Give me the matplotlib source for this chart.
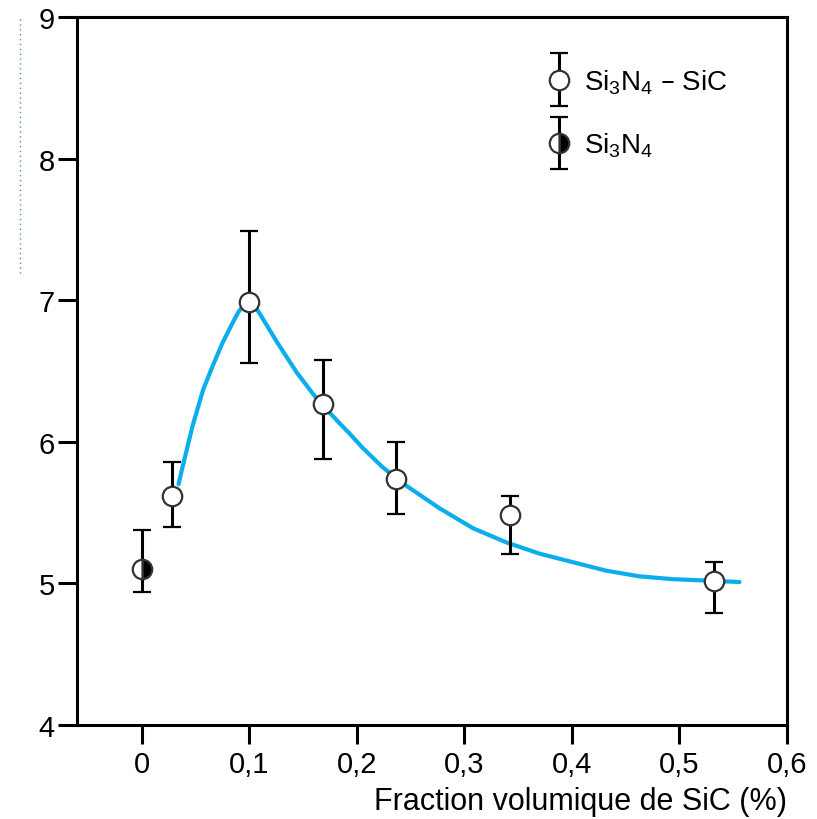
import numpy as np
import matplotlib
matplotlib.use("Agg")
import matplotlib.pyplot as plt
from matplotlib.lines import Line2D
from matplotlib.legend_handler import HandlerErrorbar

plt.rcParams['font.family'] = ['Liberation Sans Narrow', 'Liberation Sans', 'DejaVu Sans']
plt.rcParams['mathtext.default'] = 'regular'

# Si3N4 - SiC composites
x_sic = [0.028, 0.100, 0.168, 0.236, 0.342, 0.532]
y_sic = [5.62, 6.99, 6.27, 5.74, 5.48, 5.02]
err_lo_sic = [0.22, 0.43, 0.39, 0.25, 0.27, 0.23]
err_hi_sic = [0.24, 0.50, 0.31, 0.26, 0.14, 0.13]

# Si3N4 seul
x_si = [0.0]
y_si = [5.10]
err_lo_si = [0.16]
err_hi_si = [0.28]

# courbe de tendance
curve_x = [0.034, 0.038, 0.047, 0.057, 0.066, 0.075, 0.085, 0.090, 0.095, 0.100,
           0.104, 0.110, 0.126, 0.144, 0.159, 0.168, 0.184, 0.193, 0.205, 0.224,
           0.246, 0.277, 0.308, 0.339, 0.370, 0.401, 0.432, 0.463, 0.494, 0.526,
           0.556]
curve_y = [5.70, 5.83, 6.11, 6.37, 6.54, 6.70, 6.85, 6.92, 6.97, 6.99,
           6.97, 6.90, 6.70, 6.49, 6.34, 6.26, 6.13, 6.06, 5.96, 5.82,
           5.69, 5.53, 5.39, 5.29, 5.21, 5.15, 5.09, 5.05, 5.03, 5.02,
           5.01]

xticks = [0, 0.1, 0.2, 0.3, 0.4, 0.5, 0.6]
xtick_labels = ['0', '0,1', '0,2', '0,3', '0,4', '0,5', '0,6']
yticks = [4, 5, 6, 7, 8, 9]

fig = plt.figure(figsize=(8.17, 8.2), dpi=100)
ax = fig.add_axes([0.0942, 0.1146, 0.8688, 0.8634])

ax.plot(curve_x, curve_y, color='#0aaeea', lw=3, zorder=2, solid_capstyle='round',
        solid_joinstyle='round')

eb1 = ax.errorbar(x_sic, y_sic, yerr=[err_lo_sic, err_hi_sic], fmt='o', ms=14,
                  mfc='white', mec='#333333', mew=1.6, ecolor='black', elinewidth=2.2,
                  capsize=6.5, capthick=2.2, zorder=3, label='Si$_3$N$_4$ – SiC')
eb2 = ax.errorbar(x_si, y_si, yerr=[err_lo_si, err_hi_si], fmt='o', ms=14,
                  mfc='black', mfcalt='white', fillstyle='right', mec='#333333',
                  mew=1.6, ecolor='black', elinewidth=2.2, capsize=6.5, capthick=2.2,
                  zorder=3, label='Si$_3$N$_4$')

ax.set_xlim(-0.0605, 0.6)
ax.set_ylim(4, 9)
ax.set_xticks(xticks)
ax.set_xticklabels(xtick_labels)
ax.set_yticks(yticks)

for s in ax.spines.values():
    s.set_linewidth(2.2)
ax.tick_params(direction='out', length=14, width=2.2, labelsize=21, pad=2)
ax.tick_params(axis='x', pad=4)

ax.set_xlabel('Fraction volumique de SiC (%)', fontsize=22, loc='right', labelpad=6)

leg = ax.legend(handles=[eb1, eb2], loc='upper right', bbox_to_anchor=(0.955, 0.968),
                frameon=False, fontsize=20, handlelength=0.8, handletextpad=0.5,
                labelspacing=1.25, borderaxespad=0.6,
                handler_map={type(eb1): HandlerErrorbar(yerr_size=0.95)})

# trace tronqué du titre de l'axe vertical
fig.add_artist(Line2D([0.0245, 0.0245], [0.976, 0.665], transform=fig.transFigure,
                      color='#4a8fd0', lw=1, ls=(0, (1, 2.5))))

fig.savefig('out.png', dpi=100)
